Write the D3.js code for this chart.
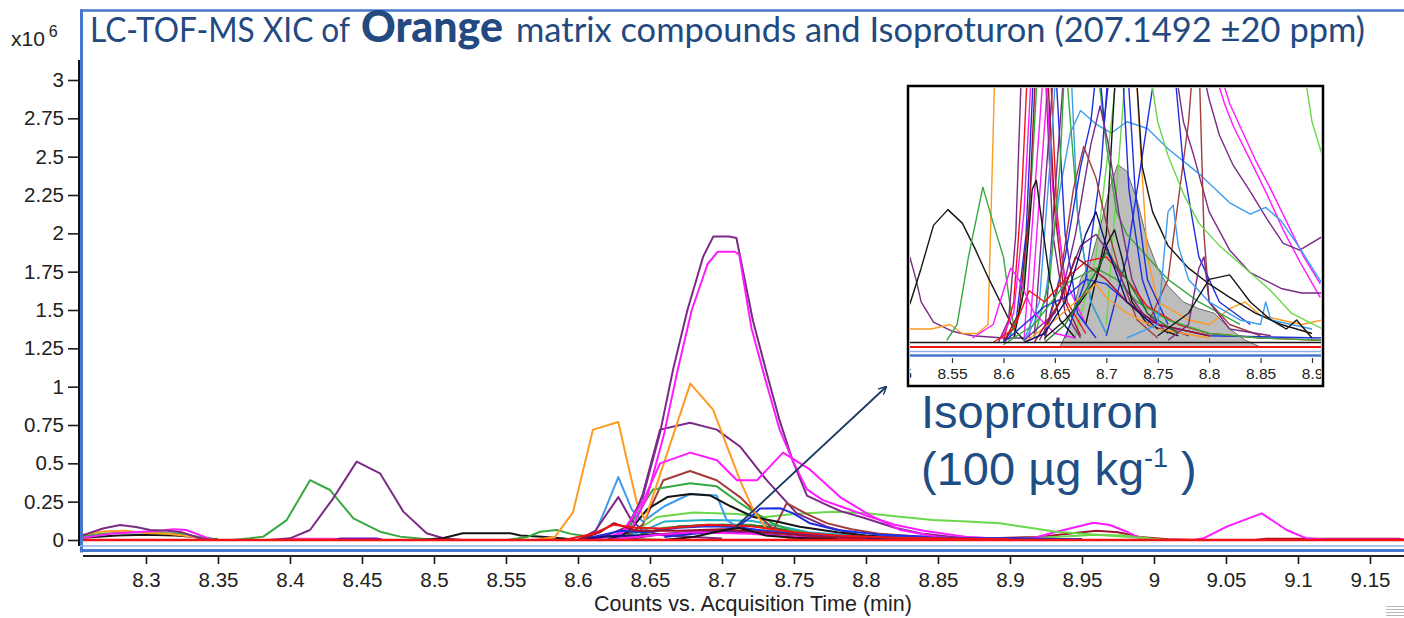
<!DOCTYPE html>
<html>
<head>
<meta charset="utf-8">
<script src="https://cdn.jsdelivr.net/npm/d3@7"></script>
<style>
  body { margin: 0; background: #fff; }
  svg { display: block; }
</style>
</head>
<body>
<svg id="chart" width="1404" height="618"></svg>
<script>
// ---------- axis ticks ----------
const xTickValues = [8.3, 8.35, 8.4, 8.45, 8.5, 8.55, 8.6, 8.65, 8.7, 8.75, 8.8, 8.85, 8.9, 8.95, 9, 9.05, 9.1, 9.15];
const yTickValues = [0, 0.25, 0.5, 0.75, 1, 1.25, 1.5, 1.75, 2, 2.25, 2.5, 2.75, 3];
const insetTickValues = [8.5, 8.55, 8.6, 8.65, 8.7, 8.75, 8.8, 8.85, 8.9];

// ---------- main XIC traces: [time (min), counts x10^6] ----------
const mPurpleEarly = [[8.256,0.03],[8.27,0.075],[8.282,0.098],[8.293,0.085],[8.303,0.065],[8.315,0.06],[8.325,0.05],[8.337,0.013],[8.345,0]];
const mMagentaEarly = [[8.256,0.015],[8.275,0.04],[8.3,0.055],[8.31,0.06],[8.319,0.07],[8.328,0.065],[8.338,0.03],[8.345,0.003]];
const mOrangeEarly = [[8.256,0.035],[8.27,0.055],[8.285,0.06],[8.3,0.045],[8.315,0.04],[8.33,0.025],[8.34,0.005]];
const mGreenEarly = [[8.256,0.025],[8.27,0.04],[8.29,0.05],[8.31,0.045],[8.325,0.04],[8.34,0.015],[8.35,0]];
const mBlackEarly = [[8.256,0.015],[8.28,0.03],[8.3,0.035],[8.32,0.03],[8.335,0.02],[8.35,0.004]];
const mGreen415 = [[8.36,0],[8.3722,0.011],[8.3815,0.022],[8.3977,0.13],[8.4139,0.39],[8.4278,0.326],[8.444,0.141],[8.4625,0.054],[8.4764,0.022],[8.488,0.011],[8.5,0]];
const mPurple445 = [[8.385,0],[8.4,0.011],[8.4139,0.065],[8.43,0.272],[8.4463,0.511],[8.4625,0.435],[8.4787,0.185],[8.4949,0.044],[8.5065,0.011],[8.52,0]];
const mPinkLow = [[8.395,0],[8.4,0.008],[8.43,0.008],[8.435,0]];
const mVioletLow = [[8.43,0],[8.435,0.01],[8.46,0.01],[8.465,0]];
const mBlackPlateau = [[8.49,0],[8.506,0.011],[8.52,0.044],[8.553,0.044],[8.56,0.03],[8.575,0.022],[8.59,0.01],[8.6,0]];
const mGreen585 = [[8.55,0],[8.565,0.02],[8.5736,0.054],[8.5852,0.065],[8.595,0.04],[8.61,0.02],[8.63,0.01],[8.66,0]];
const mOrange = [[8.57,0],[8.584,0.02],[8.5965,0.18],[8.6104,0.72],[8.628,0.77],[8.634,0.52],[8.641,0.24],[8.6465,0.13],[8.678,1.02],[8.6938,0.85],[8.7035,0.61],[8.7125,0.39],[8.7215,0.2],[8.7313,0.065],[8.747,0.01],[8.76,0]];
const mPurpleBig = [[8.6,0],[8.62,0.03],[8.634,0.085],[8.645,0.28],[8.657,0.70],[8.666,1.11],[8.676,1.50],[8.687,1.85],[8.694,1.98],[8.705,1.98],[8.71,1.97],[8.7215,1.43],[8.731,1.09],[8.74,0.78],[8.749,0.52],[8.759,0.29],[8.77,0.24],[8.782,0.19],[8.8,0.14],[8.82,0.08],[8.84,0.04],[8.87,0.01],[8.9,0]];
const mMagentaBig = [[8.6,0],[8.625,0.03],[8.638,0.09],[8.648,0.28],[8.66,0.70],[8.669,1.10],[8.679,1.50],[8.69,1.80],[8.697,1.88],[8.709,1.88],[8.712,1.86],[8.7205,1.38],[8.73,1.05],[8.74,0.72],[8.75,0.50],[8.759,0.33],[8.77,0.26],[8.782,0.22],[8.8,0.16],[8.82,0.1],[8.84,0.06],[8.87,0.02],[8.9,0.005]];
const mMagentaMid = [[8.61,0],[8.63,0.04],[8.645,0.25],[8.657,0.50],[8.678,0.57],[8.6965,0.52],[8.7104,0.39],[8.7243,0.39],[8.7424,0.57],[8.761,0.46],[8.782,0.28],[8.803,0.16],[8.824,0.065],[8.85,0.02],[8.88,0]];
const mPurpleMid = [[8.625,0],[8.635,0.06],[8.645,0.3],[8.657,0.72],[8.6778,0.765],[8.6963,0.72],[8.7125,0.61],[8.731,0.39],[8.7519,0.174],[8.7727,0.087],[8.796,0.03],[8.82,0.01],[8.85,0]];
const mBrown = [[8.63,0],[8.645,0.1],[8.6593,0.39],[8.6778,0.45],[8.6963,0.39],[8.7125,0.28],[8.7287,0.13],[8.736,0.07],[8.7449,0.24],[8.7588,0.17],[8.7727,0.11],[8.79,0.07],[8.81,0.04],[8.84,0.02],[8.87,0.005]];
const mGreenMid = [[8.62,0],[8.635,0.08],[8.6521,0.33],[8.6778,0.37],[8.6963,0.35],[8.7125,0.24],[8.7241,0.17],[8.735,0.11],[8.747,0.065],[8.77,0.03],[8.8,0.01]];
const mBlackMid = [[8.62,0],[8.635,0.05],[8.648,0.2],[8.662,0.28],[8.678,0.30],[8.692,0.29],[8.706,0.22],[8.722,0.15],[8.738,0.12],[8.754,0.087],[8.78,0.05],[8.8,0.03],[8.83,0.01],[8.86,0]];
const mLightBlue = [[8.6,0],[8.612,0.05],[8.6176,0.17],[8.628,0.41],[8.6373,0.2],[8.645,0.12],[8.66,0.22],[8.6778,0.30],[8.6963,0.29],[8.7032,0.13],[8.712,0.08],[8.73,0.06],[8.76,0.04],[8.8,0.02],[8.85,0.01]];
const mPurpleSpike = [[8.6,0],[8.612,0.06],[8.628,0.28],[8.637,0.13],[8.645,0.06],[8.66,0.03],[8.68,0.02],[8.7,0.01]];
const mDarkBlue = [[8.66,0.02],[8.69,0.05],[8.71,0.08],[8.72,0.15],[8.7264,0.205],[8.7403,0.207],[8.7495,0.174],[8.7611,0.109],[8.78,0.065],[8.81,0.035],[8.85,0.02],[8.9,0.01],[8.95,0.005]];
const mGreenLong = [[8.62,0],[8.64,0.06],[8.655,0.15],[8.68,0.18],[8.71,0.17],[8.73,0.15],[8.75,0.17],[8.7773,0.185],[8.8005,0.174],[8.8236,0.152],[8.8467,0.13],[8.87,0.12],[8.893,0.109],[8.916,0.076],[8.932,0.054],[8.96,0.035],[8.99,0.015],[9.01,0]];
const mCyan = [[8.625,0],[8.645,0.06],[8.66,0.12],[8.69,0.13],[8.72,0.125],[8.74,0.09],[8.76,0.05],[8.79,0.03],[8.83,0.015],[8.88,0.008],[8.95,0.004]];
const mBlue = [[8.6,0],[8.62,0.04],[8.63,0.06],[8.645,0.05],[8.67,0.08],[8.69,0.09],[8.71,0.085],[8.73,0.06],[8.76,0.035],[8.8,0.02],[8.85,0.015],[8.9,0.01],[8.95,0.005]];
const mRed = [[8.59,0],[8.61,0.04],[8.625,0.1],[8.64,0.08],[8.66,0.075],[8.69,0.1],[8.72,0.09],[8.75,0.05],[8.78,0.03],[8.82,0.015],[8.86,0.01],[8.9,0.005]];
const mDarkRed = [[8.6,0],[8.615,0.05],[8.625,0.11],[8.64,0.06],[8.67,0.06],[8.7,0.07],[8.73,0.05],[8.77,0.02],[8.8,0.01]];
const mDarkGreen = [[8.63,0],[8.65,0.05],[8.67,0.09],[8.7,0.1],[8.73,0.09],[8.76,0.04],[8.79,0.015]];
const mPurpleSmall = [[8.63,0],[8.66,0.04],[8.69,0.06],[8.71,0.06],[8.74,0.03],[8.77,0.01]];
const mMagentaSmall = [[8.62,0],[8.65,0.03],[8.68,0.05],[8.72,0.04],[8.75,0.02],[8.8,0.005]];
const mIsoproturon = [[8.66,0],[8.68,0.02],[8.695,0.05],[8.705,0.07],[8.711,0.08],[8.72,0.06],[8.73,0.03],[8.75,0.015],[8.78,0.005]];
const mNavy = [[8.6,0],[8.62,0.025],[8.64,0.03],[8.67,0.04],[8.7,0.055],[8.72,0.045],[8.75,0.02],[8.8,0.01],[8.85,0]];
const mLightGreen = [[8.63,0],[8.66,0.08],[8.69,0.1],[8.72,0.1],[8.745,0.06],[8.77,0.03],[8.8,0.01]];
const mDarkRedLate = [[8.88,0.01],[8.92,0.02],[8.945,0.045],[8.96,0.06],[8.975,0.05],[8.99,0.02],[9.01,0.005],[9.03,0]];
const mLimeLate = [[8.9,0.005],[8.93,0.02],[8.96,0.035],[8.98,0.03],[9.0,0.005]];
const mMagentaLate = [[8.9,0],[8.915,0.01],[8.9324,0.054],[8.9579,0.113],[8.9694,0.098],[8.981,0.054],[8.9903,0.011],[9.0,0],[9.0273,0],[9.0343,0.011],[9.0505,0.087],[9.0748,0.174],[9.0921,0.065],[9.106,0.011],[9.12,0.003],[9.174,0.003]];
const mCrimsonTail = [[9.07,0],[9.078,0.008],[9.17,0.008],[9.174,0]];
const mBaseline = [[8.256,0],[9.174,0]];

// ---------- inset traces (zoomed 8.51–8.91 min): [time, counts x10^6] ----------
const iPurpleLeft = [[8.509,0.04],[8.515,0.03],[8.52,0.02],[8.532,0.011],[8.55,0.007],[8.57,0.005],[8.6,0.004],[8.62,0.004]];
const iBlackEarly = [[8.509,0.019],[8.52,0.035],[8.532,0.054],[8.546,0.061],[8.56,0.055],[8.572,0.044],[8.585,0.031],[8.597,0.02],[8.61,0.008],[8.62,0.003]];
const iGreenEarly = [[8.545,0.003],[8.555,0.01],[8.566,0.04],[8.58,0.071],[8.59,0.055],[8.6,0.04],[8.606,0.02],[8.612,0.004]];
const iOrange = [[8.509,0.008],[8.53,0.008],[8.548,0.01],[8.56,0.006],[8.575,0.006],[8.585,0.01],[8.588,0.06],[8.592,0.13],[8.728,0.13],[8.733,0.09],[8.74,0.04],[8.75,0.02],[8.78,0.012],[8.8,0.01],[8.82,0.017],[8.835,0.02],[8.85,0.014],[8.87,0.012],[8.89,0.01],[8.91,0.012]];
const iSpikePurple = [[8.595,0.002],[8.605,0.012],[8.612,0.05],[8.618,0.13],[8.64,0.13],[8.648,0.05],[8.66,0.015],[8.675,0.004]];
const iSpikeRed = [[8.6,0.003],[8.61,0.02],[8.618,0.07],[8.624,0.13],[8.645,0.13],[8.652,0.06],[8.662,0.02],[8.68,0.006]];
const iSpikeMagenta = [[8.598,0.004],[8.61,0.015],[8.62,0.06],[8.628,0.13],[8.64,0.13],[8.648,0.07],[8.66,0.03],[8.68,0.01]];
const iSpikeBlue = [[8.6,0.002],[8.612,0.01],[8.622,0.05],[8.63,0.13],[8.65,0.13],[8.66,0.05],[8.672,0.015],[8.69,0.004]];
const iSpikeGreen = [[8.605,0.003],[8.618,0.02],[8.628,0.08],[8.634,0.13],[8.66,0.13],[8.672,0.06],[8.685,0.02],[8.7,0.006]];
const iBlackPeak = [[8.61,0.004],[8.62,0.025],[8.628,0.07],[8.632,0.074],[8.636,0.06],[8.645,0.03],[8.655,0.012],[8.67,0.004]];
const iSpikeLightBlue = [[8.62,0.003],[8.635,0.02],[8.645,0.08],[8.652,0.13],[8.665,0.13],[8.672,0.06],[8.685,0.02],[8.7,0.006]];
const iSpikeDarkRed = [[8.6,0.002],[8.615,0.015],[8.625,0.06],[8.632,0.13],[8.642,0.13],[8.65,0.06],[8.66,0.02],[8.675,0.005]];
const iGreenTop = [[8.63,0.004],[8.645,0.03],[8.655,0.08],[8.66,0.13],[8.69,0.13],[8.7,0.09],[8.71,0.06],[8.72,0.05],[8.74,0.04],[8.76,0.03],[8.79,0.02],[8.83,0.01]];
const iPurplePeak = [[8.635,0.003],[8.655,0.02],[8.67,0.05],[8.685,0.09],[8.694,0.107],[8.702,0.09],[8.712,0.06],[8.725,0.03],[8.74,0.015],[8.76,0.006]];
const iBlueZig = [[8.64,0.005],[8.66,0.04],[8.675,0.08],[8.685,0.1],[8.692,0.13],[8.698,0.1],[8.705,0.13],[8.715,0.13],[8.722,0.07],[8.735,0.03],[8.75,0.01]];
const iBrownPeak = [[8.64,0.003],[8.655,0.03],[8.668,0.07],[8.678,0.089],[8.69,0.075],[8.7,0.055],[8.715,0.03],[8.73,0.012],[8.75,0.004]];
const iLightBlueLong = [[8.62,0.002],[8.64,0.02],[8.655,0.07],[8.665,0.095],[8.675,0.105],[8.69,0.099],[8.705,0.095],[8.72,0.1],[8.74,0.097],[8.76,0.088],[8.79,0.077],[8.82,0.064],[8.84,0.059],[8.855,0.062],[8.87,0.056],[8.888,0.044],[8.91,0.028]];
const iBlueTop = [[8.66,0.004],[8.68,0.03],[8.695,0.08],[8.703,0.13],[8.72,0.13],[8.728,0.07],[8.74,0.03],[8.76,0.01]];
const iGreenRight = [[8.67,0.005],[8.69,0.04],[8.705,0.1],[8.712,0.13],[8.74,0.13],[8.75,0.1],[8.76,0.085],[8.775,0.068],[8.79,0.055],[8.81,0.045],[8.835,0.035],[8.86,0.025],[8.88,0.015],[8.91,0.008]];
const iBlackFall = [[8.68,0.01],[8.7,0.05],[8.71,0.13],[8.728,0.13],[8.735,0.08],[8.745,0.06],[8.76,0.045],[8.78,0.035],[8.8,0.028],[8.82,0.022],[8.845,0.015],[8.87,0.01],[8.9,0.006]];
const iBlueFall = [[8.7,0.005],[8.72,0.04],[8.74,0.1],[8.75,0.13],[8.765,0.13],[8.775,0.08],[8.79,0.04],[8.81,0.02],[8.84,0.01]];
const iBrownFall = [[8.74,0.01],[8.76,0.03],[8.78,0.1],[8.785,0.13],[8.79,0.13],[8.795,0.05],[8.8,0.02],[8.82,0.01],[8.85,0.005]];
const iMagentaA = [[8.62,0.003],[8.64,0.13],[8.8,0.13],[8.815,0.108],[8.8235,0.098],[8.84,0.083],[8.856,0.068],[8.872,0.052],[8.888,0.038],[8.908,0.022]];
const iMagentaB = [[8.625,0.003],[8.645,0.13],[8.805,0.13],[8.82,0.108],[8.83,0.098],[8.845,0.083],[8.86,0.07],[8.876,0.055],[8.892,0.04],[8.908,0.028]];
const iPurpleA = [[8.63,0.005],[8.65,0.13],[8.79,0.13],[8.8,0.11],[8.81,0.094],[8.823,0.081],[8.84,0.069],[8.856,0.057],[8.872,0.046],[8.888,0.043],[8.91,0.049]];
const iPurpleB = [[8.64,0.005],[8.66,0.13],[8.765,0.13],[8.775,0.1],[8.785,0.085],[8.8,0.06],[8.82,0.043],[8.84,0.033],[8.87,0.026],[8.89,0.024],[8.91,0.024]];
const iGreenFar = [[8.7,0.01],[8.72,0.13],[8.89,0.13],[8.9,0.1],[8.91,0.085]];
const iIsoproturon = [[8.655,0],[8.665,0.01],[8.675,0.03],[8.684,0.037],[8.695,0.055],[8.703,0.07],[8.711,0.081],[8.72,0.078],[8.73,0.065],[8.74,0.047],[8.75,0.035],[8.76,0.027],[8.775,0.02],[8.79,0.017],[8.805,0.015],[8.82,0.008],[8.835,0.003],[8.85,0]];
const iRedLow = [[8.59,0.002],[8.61,0.008],[8.625,0.025],[8.64,0.02],[8.66,0.03],[8.68,0.038],[8.7,0.04],[8.72,0.03],[8.74,0.018],[8.77,0.01],[8.8,0.006],[8.85,0.004],[8.91,0.003]];
const iBlueLow = [[8.6,0.002],[8.62,0.01],[8.64,0.018],[8.66,0.022],[8.68,0.03],[8.7,0.028],[8.72,0.02],[8.75,0.01],[8.8,0.005],[8.91,0.004]];
const iGreenLow = [[8.6,0.001],[8.63,0.01],[8.66,0.028],[8.69,0.035],[8.71,0.03],[8.73,0.02],[8.76,0.012],[8.8,0.006],[8.85,0.004],[8.91,0.003]];
const iPurpleLow = [[8.62,0.003],[8.65,0.015],[8.675,0.045],[8.69,0.05],[8.705,0.04],[8.72,0.025],[8.74,0.012],[8.78,0.005]];
const iMagentaLow = [[8.57,0.004],[8.59,0.01],[8.6,0.025],[8.607,0.035],[8.615,0.03],[8.63,0.015],[8.65,0.006],[8.67,0.004]];
const iBlackLow = [[8.64,0.004],[8.66,0.012],[8.675,0.02],[8.69,0.03],[8.7,0.045],[8.708,0.052],[8.715,0.04],[8.725,0.02],[8.74,0.01],[8.77,0.005]];
const iOrangeLow = [[8.62,0.002],[8.65,0.012],[8.67,0.02],[8.69,0.028],[8.7,0.022],[8.72,0.015],[8.75,0.008],[8.8,0.004]];
const iDarkRedLow = [[8.63,0.002],[8.655,0.02],[8.67,0.04],[8.685,0.035],[8.7,0.03],[8.72,0.02],[8.75,0.01],[8.8,0.005]];
const iDarkGreenLow = [[8.64,0.002],[8.66,0.01],[8.68,0.025],[8.7,0.042],[8.72,0.03],[8.74,0.015],[8.77,0.006]];
const iNavyLow = [[8.62,0.002],[8.64,0.006],[8.66,0.02],[8.68,0.05],[8.69,0.06],[8.7,0.045],[8.72,0.02],[8.75,0.008]];
const iPurpleBlip = [[8.76,0.003],[8.78,0.01],[8.79,0.035],[8.795,0.04],[8.8,0.02],[8.82,0.008],[8.86,0.005]];
const iLightBlueBlip = [[8.72,0.004],[8.75,0.01],[8.76,0.06],[8.765,0.063],[8.77,0.045],[8.78,0.03],[8.8,0.02],[8.83,0.012],[8.85,0.01],[8.855,0.02],[8.86,0.012],[8.9,0.008]];
const iBlackRight = [[8.75,0.005],[8.78,0.015],[8.8,0.03],[8.82,0.032],[8.84,0.02],[8.86,0.012],[8.875,0.008],[8.885,0.012],[8.9,0.004]];
const iBaseBlack = [[8.509,0.002],[8.91,0.002]];
const iBaseRed = [[8.509,0],[8.91,0]];

// ---------- palette ----------
const C = {
  purple: "#7b2a86", magenta: "#ff1aff", orange: "#ff9a22", brown: "#a33b3b",
  green: "#36a93f", lime: "#6ad84a", darkGreen: "#1e7a2a", black: "#151515",
  lightBlue: "#3d9cf0", blue: "#1f2fe0", navy: "#10107a", cyan: "#1fb0c6",
  red: "#f01414", darkRed: "#a0102a", violet: "#6a10d0", pink: "#ff3ad0"
};

const mainTraces = [
  [mBlackEarly, C.black], [mGreenEarly, C.green], [mOrangeEarly, C.orange], [mMagentaEarly, C.magenta], [mPurpleEarly, C.purple],
  [mPinkLow, C.pink], [mVioletLow, C.violet],
  [mGreen415, C.green], [mPurple445, C.purple],
  [mBlackPlateau, C.black], [mGreen585, C.green],
  [mDarkRedLate, C.darkRed], [mLimeLate, C.lime], [mCrimsonTail, C.darkRed], [mMagentaLate, C.magenta],
  [mGreenLong, C.lime], [mLightGreen, C.green], [mDarkGreen, C.darkGreen], [mCyan, C.cyan],
  [mPurpleMid, C.purple], [mBrown, C.brown], [mGreenMid, C.green],
  [mLightBlue, C.lightBlue], [mBlackMid, C.black], [mPurpleSpike, C.purple], [mDarkBlue, C.blue],
  [mOrange, C.orange],
  [mPurpleBig, C.purple], [mMagentaBig, C.magenta], [mMagentaMid, C.magenta],
  [mBlue, C.blue], [mNavy, C.navy], [mPurpleSmall, C.purple], [mMagentaSmall, C.magenta],
  [mDarkRed, C.darkRed], [mRed, C.red], [mIsoproturon, C.black],
  [mBaseline, C.red]
];

const insetTraces = [
  [iPurpleLeft, C.purple], [iOrange, C.orange], [iBlackEarly, C.black], [iGreenEarly, C.green],
  [iGreenFar, C.lime], [iMagentaA, C.magenta], [iMagentaB, C.magenta], [iPurpleA, C.purple], [iPurpleB, C.purple],
  [iLightBlueLong, C.lightBlue], [iBrownFall, C.brown], [iBlueFall, C.blue], [iGreenRight, C.lime], [iBlackFall, C.black],
  [iSpikePurple, C.purple], [iSpikeRed, C.red], [iSpikeMagenta, C.magenta], [iSpikeBlue, C.blue], [iSpikeGreen, C.green],
  [iSpikeDarkRed, C.darkRed], [iSpikeLightBlue, C.lightBlue], [iGreenTop, C.green], [iBlueTop, C.blue],
  [iPurplePeak, C.purple], [iBlueZig, C.blue], [iBrownPeak, C.brown], [iBlackPeak, C.black],
  [iRedLow, C.red], [iBlueLow, C.blue], [iGreenLow, C.green], [iPurpleLow, C.purple], [iMagentaLow, C.magenta],
  [iBlackLow, C.black], [iOrangeLow, C.orange], [iDarkRedLow, C.darkRed], [iDarkGreenLow, C.darkGreen], [iNavyLow, C.navy],
  [iPurpleBlip, C.purple], [iLightBlueBlip, C.lightBlue], [iBlackRight, C.black],
  [iBaseBlack, C.black], [iBaseRed, C.red]
];

// ---------- drawing ----------
const svg = d3.select("#chart");
const frameBlue = "#4677cf";
const tickFont = "'Liberation Sans', Arial, sans-serif";

const x = d3.scaleLinear().domain([8.3, 9.15]).range([146, 1370]);
const y = d3.scaleLinear().domain([0, 3]).range([540, 80]);

const defs = svg.append("defs");
defs.append("clipPath").attr("id", "mainClip")
  .append("rect").attr("x", 83).attr("y", 56).attr("width", 1321).attr("height", 489);

// plot frame
svg.append("line").attr("x1", 80).attr("x2", 1404).attr("y1", 10.5).attr("y2", 10.5)
  .attr("stroke", frameBlue).attr("stroke-width", 2.5);
svg.append("line").attr("x1", 81.5).attr("x2", 81.5).attr("y1", 9.5).attr("y2", 552.5)
  .attr("stroke", frameBlue).attr("stroke-width", 3);
svg.append("line").attr("x1", 80).attr("x2", 1404).attr("y1", 546).attr("y2", 546)
  .attr("stroke", "#8fb0e8").attr("stroke-width", 1.6);
svg.append("line").attr("x1", 80).attr("x2", 1404).attr("y1", 550.5).attr("y2", 550.5)
  .attr("stroke", frameBlue).attr("stroke-width", 3);

// traces
const line = d3.line().x(d => x(d[0])).y(d => y(d[1]));
const plot = svg.append("g").attr("clip-path", "url(#mainClip)");
plot.selectAll("path.trace").data(mainTraces).join("path")
  .attr("class", "trace")
  .attr("d", d => line(d[0]))
  .attr("fill", "none")
  .attr("stroke", d => d[1])
  .attr("stroke-width", (d) => d[0] === mBaseline ? 2.4 : 2)
  .attr("stroke-linejoin", "round");

// y axis
const yAxis = svg.append("g").attr("transform", "translate(79,0)")
  .call(d3.axisLeft(y).tickValues(yTickValues).tickSize(11).tickPadding(4).tickFormat(d3.format("~g")));
yAxis.select(".domain").remove();
yAxis.selectAll(".tick line").attr("stroke", "#1a1a1a").attr("stroke-width", 1.6);
yAxis.selectAll(".tick text").attr("fill", "#222").style("font-family", tickFont).style("font-size", "20.5px");
svg.append("line").attr("x1", 79).attr("x2", 79).attr("y1", 60).attr("y2", 546)
  .attr("stroke", "#111").attr("stroke-width", 2);

// x axis
const xAxis = svg.append("g").attr("transform", "translate(0,556)")
  .call(d3.axisBottom(x).tickValues(xTickValues).tickSize(8).tickPadding(8).tickFormat(d3.format("~g")));
xAxis.select(".domain").remove();
xAxis.selectAll(".tick line").attr("stroke", "#1a1a1a").attr("stroke-width", 1.6);
xAxis.selectAll(".tick text").attr("fill", "#222").style("font-family", tickFont).style("font-size", "20.5px");
svg.append("line").attr("x1", 83).attr("x2", 1404).attr("y1", 556).attr("y2", 556)
  .attr("stroke", "#222").attr("stroke-width", 2.2);

svg.append("text").attr("x", 753).attr("y", 611).attr("text-anchor", "middle")
  .style("font-family", tickFont).style("font-size", "21.5px").attr("fill", "#222")
  .text("Counts vs. Acquisition Time (min)");

// exponent label
const expLabel = svg.append("text").attr("x", 11).attr("y", 46)
  .style("font-family", tickFont).style("font-size", "21px").attr("fill", "#222");
expLabel.append("tspan").text("x10");
expLabel.append("tspan").attr("dx", 4).attr("dy", -9).style("font-size", "16px").text("6");

// title
const titleColor = "#234a80";
const titleFont = "Lato, 'Open Sans', sans-serif";
svg.append("text").attr("x", 90).attr("y", 42)
  .style("font-family", titleFont).style("font-size", "34px").attr("fill", titleColor)
  .attr("textLength", 260).attr("lengthAdjust", "spacingAndGlyphs")
  .text("LC-TOF-MS XIC of");
svg.append("text").attr("x", 361).attr("y", 42)
  .style("font-family", titleFont).style("font-size", "44px").style("font-weight", "900").attr("fill", titleColor)
  .attr("textLength", 142).attr("lengthAdjust", "spacingAndGlyphs")
  .text("Orange");
svg.append("text").attr("x", 516).attr("y", 42)
  .style("font-family", titleFont).style("font-size", "34px").attr("fill", titleColor)
  .attr("textLength", 849).attr("lengthAdjust", "spacingAndGlyphs")
  .text("matrix compounds and Isoproturon (207.1492 \u00B120 ppm)");

// pointer from the Isoproturon trace to the zoomed view
defs.append("marker").attr("id", "arrowHead")
  .attr("viewBox", "0 0 10 10").attr("refX", 9).attr("refY", 5)
  .attr("markerWidth", 8).attr("markerHeight", 8).attr("orient", "auto-start-reverse")
  .attr("markerUnits", "userSpaceOnUse")
  .append("path").attr("d", "M0,0 L10,5 L0,10").attr("fill", "none")
  .attr("stroke", "#1b3a63").attr("stroke-width", 1.8);
svg.append("line")
  .attr("x1", x(8.709)).attr("y1", y(0.08))
  .attr("x2", 886).attr("y2", 387)
  .attr("stroke", "#1b3a63").attr("stroke-width", 1.8)
  .attr("marker-end", "url(#arrowHead)");

// annotation
const noteColor = "#1f4e85";
svg.append("text").attr("x", 921).attr("y", 428)
  .style("font-family", tickFont).style("font-size", "47px").attr("fill", noteColor)
  .text("Isoproturon");
const conc = svg.append("text").attr("x", 921).attr("y", 485)
  .style("font-family", tickFont).style("font-size", "47px").attr("fill", noteColor);
conc.append("tspan").text("(100 \u00B5g kg");
conc.append("tspan").attr("dy", -18).style("font-size", "27px").text("-1");
conc.append("tspan").attr("dy", 18).text(" )");

// ---------- inset: zoom of the 8.51–8.91 min window ----------
const xIn = d3.scaleLinear().domain([8.55, 8.9]).range([952, 1312]);
const yIn = d3.scaleLinear().domain([0, 0.115]).range([347, 88]);

defs.append("clipPath").attr("id", "insetClip")
  .append("rect").attr("x", 910).attr("y", 88).attr("width", 411).attr("height", 261);
defs.append("clipPath").attr("id", "insetAxisClip")
  .append("rect").attr("x", 910).attr("y", 88).attr("width", 411).attr("height", 296);

svg.append("rect").attr("x", 908).attr("y", 86).attr("width", 415).attr("height", 300)
  .attr("fill", "#fff").attr("stroke", "none");

const inset = svg.append("g").attr("clip-path", "url(#insetClip)");
const areaIn = d3.area().x(d => xIn(d[0])).y0(yIn(0)).y1(d => yIn(d[1]));
const lineIn = d3.line().x(d => xIn(d[0])).y(d => yIn(d[1]));

inset.append("path").attr("d", areaIn(iIsoproturon))
  .attr("fill", "#bdbdbd").attr("stroke", "#6a6a6a").attr("stroke-width", 1);
inset.selectAll("path.itrace").data(insetTraces).join("path")
  .attr("class", "itrace")
  .attr("d", d => lineIn(d[0]))
  .attr("fill", "none")
  .attr("stroke", d => d[1])
  .attr("stroke-width", d => d[0] === iBaseRed ? 2 : 1.4)
  .attr("stroke-linejoin", "round");

const insetAxis = svg.append("g").attr("clip-path", "url(#insetAxisClip)");
insetAxis.append("line").attr("x1", 908).attr("x2", 1323).attr("y1", 351.5).attr("y2", 351.5)
  .attr("stroke", "#8fb0e8").attr("stroke-width", 1.6);
insetAxis.append("line").attr("x1", 908).attr("x2", 1323).attr("y1", 355.5).attr("y2", 355.5)
  .attr("stroke", frameBlue).attr("stroke-width", 2.6);
const inAx = insetAxis.append("g").attr("transform", "translate(0,358)")
  .call(d3.axisBottom(xIn).tickValues(insetTickValues).tickSize(5).tickPadding(5).tickFormat(d3.format("~g")));
inAx.select(".domain").remove();
inAx.selectAll(".tick line").attr("stroke", "#333").attr("stroke-width", 1.2);
inAx.selectAll(".tick text").attr("fill", "#222").style("font-family", tickFont).style("font-size", "15.5px");

svg.append("rect").attr("x", 908).attr("y", 86).attr("width", 415).attr("height", 300)
  .attr("fill", "none").attr("stroke", "#000").attr("stroke-width", 2.5);

// window grip in the corner
const grip = svg.append("g").attr("stroke", "#b8b8b8").attr("stroke-width", 1);
[606, 609, 612, 615].forEach(gy => {
  grip.append("line").attr("x1", 1386).attr("x2", 1404).attr("y1", gy + 0.5).attr("y2", gy + 0.5);
});
</script>
</body>
</html>
